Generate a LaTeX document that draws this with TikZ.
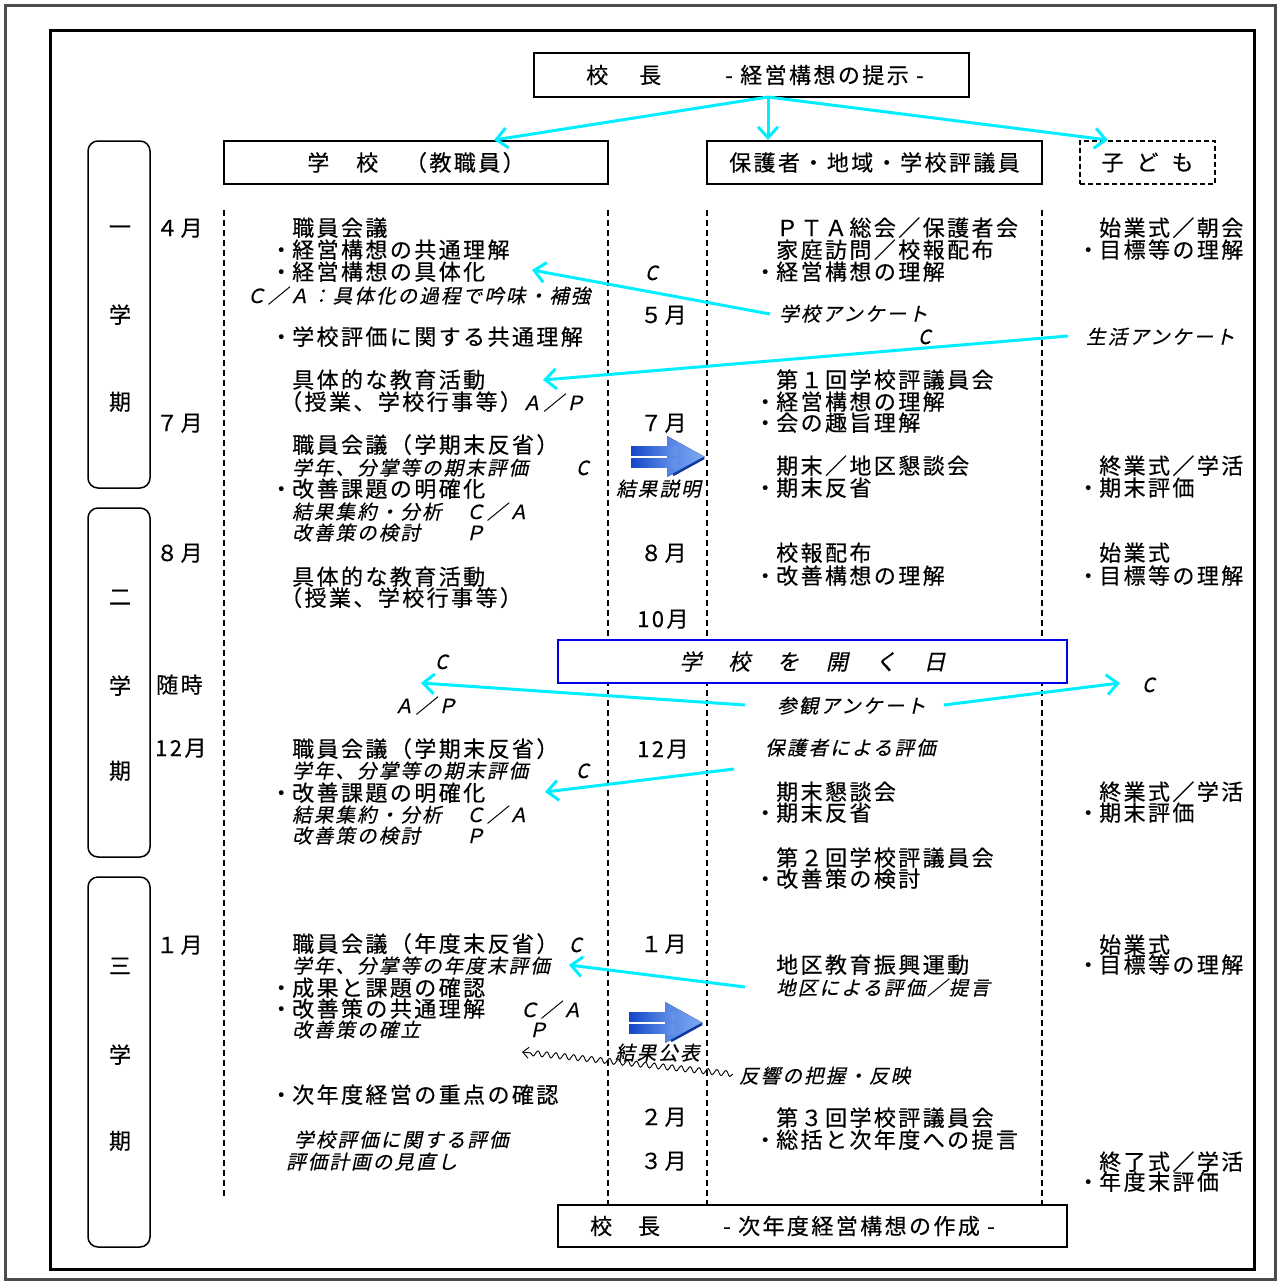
\documentclass[tikz,border=0pt]{standalone}
\usepackage{fontspec}
\setmainfont{Noto Sans CJK JP}
\newfontfamily\jpup{Noto Sans CJK JP}[LetterSpace=11,FakeBold=0.4]
\newfontfamily\jpit{Noto Sans CJK JP}[FakeSlant=0.22,LetterSpace=11,FakeBold=0.4]
\newfontfamily\jpitb{Noto Sans CJK JP}[FakeSlant=0.22,LetterSpace=11,FakeBold=0.4]
\usetikzlibrary{arrows.meta,decorations.pathmorphing}
\definecolor{cy}{RGB}{0,238,255}
\definecolor{bbox}{RGB}{0,0,230}
\definecolor{arD}{RGB}{20,70,200}
\definecolor{arL}{RGB}{125,170,245}
\newcommand\myit{\jpit\fontsize{19.5}{19.5}\selectfont}
\tikzset{
  up/.style={font=\jpup\fontsize{22}{22}\selectfont, inner sep=0pt},
  it/.style={font=\myit, inner sep=0pt},
  hbox/.style={draw, line width=2pt, inner sep=0pt, font=\jpup\fontsize{22}{22}\selectfont},
  guide/.style={dash pattern=on 6pt off 4pt, line width=1.5pt},
  cyarr/.style={draw=cy, line width=3pt, -{Straight Barb[length=11pt,width=20pt]}},
  semester/.style={draw, line width=1.5pt, rounded corners=10pt, inner sep=0pt},
}
\newcommand\txU[4]{\node[up,anchor=base west] (#1) at (#2,#3) {#4};}
\newcommand\txB[4]{\node[up,anchor=base west] (#1) at (#2,#3) {\llap{・}#4};}
\newcommand\txI[4]{\node[it,anchor=base west] (#1) at (#2,#3) {#4};}
\newcommand\blockarr[2]{%
  \begin{scope}[shift={(#1,#2)}]
    \fill[left color=arL!60!arD, right color=arL] (36,-21) -- (74,0) -- (36,20) -- cycle;
    \draw[arD!80!black, line width=2.5pt] (73,1) -- (42,18);
    \fill[left color=arD, right color=arL!80!arD] (0,-11) rectangle (46,-2);
    \fill[left color=arD, right color=arL!80!arD] (0,1) rectangle (46,10);
  \end{scope}}
\begin{document}
\begin{tikzpicture}[x=1pt,y=-1pt]
\useasboundingbox (0,0) rectangle (1280,1283);
% frames
\draw[line width=3pt, gray!60!black] (5,5) rectangle (1275,1279);
\draw[line width=3pt] (50,30) rectangle (1254,1269);
% guide lines
\draw[guide] (224,210) -- (224,1198);
\draw[guide] (608,210) -- (608,1205);
\draw[guide] (707,210) -- (707,1205);
\draw[guide] (1042,210) -- (1042,1205);
% header boxes
\node[hbox, minimum width=435pt, minimum height=44pt] (kocho) at (751.5,75) {\hspace{7pt}校\hspace{31pt}長\hspace{64pt}- 経営構想の提示 -};
\node[hbox, minimum width=384pt, minimum height=43pt] (gakko) at (416,162.5) {学　校　（教職員）};
\node[hbox, minimum width=335pt, minimum height=43pt] (hogo) at (874.5,162.5) {保護者・地域・学校評議員};
\node[hbox, dash pattern=on 5pt off 3pt, line width=1.6pt, minimum width=135pt, minimum height=43pt] (kodomo) at (1147.5,162.5) {子\hspace{13pt}ど\hspace{13pt}も};
\node[hbox, draw=bbox, fill=white, minimum width=509pt, minimum height=43pt, font=\jpitb\fontsize{22}{22}\selectfont] (hiraku) at (812.5,661.5) {学　校　を　開　く　日};
\node[hbox, fill=white, minimum width=509pt, minimum height=42pt] (kocho2) at (812.5,1226) {校\hspace{26pt}長\hspace{63pt}- 次年度経営構想の作成 -\hspace{40pt}\null};
% semester boxes
\node[semester, minimum width=62pt, minimum height=347pt] (sem1) at (119,314.5) {};
\node[semester, minimum width=62pt, minimum height=349pt] (sem2) at (119,682.5) {};
\node[semester, minimum width=62pt, minimum height=370pt] (sem3) at (119,1062) {};
\node[up,anchor=base] (s1a) at (120,235) {一};
\node[up,anchor=base] (s1b) at (120,323) {学};
\node[up,anchor=base] (s1c) at (120,410) {期};
\node[up,anchor=base] (s2a) at (120,605) {二};
\node[up,anchor=base] (s2b) at (120,694) {学};
\node[up,anchor=base] (s2c) at (120,779) {期};
\node[up,anchor=base] (s3a) at (120,974) {三};
\node[up,anchor=base] (s3b) at (120,1063) {学};
\node[up,anchor=base] (s3c) at (120,1149) {期};
% month column
\txU{t1}{156}{236}{４月}
\txU{t2}{156}{431}{７月}
\txU{t3}{156}{561}{８月}
\txU{t4}{156}{693}{随時}
\txU{t5}{155}{756}{12月}
\txU{t6}{156}{953}{１月}
% school column
\txU{l1}{292}{236}{職員会議}
\txB{l2}{292}{258}{経営構想の共通理解}
\txB{l3}{292}{280}{経営構想の具体化}
\txI{l4}{246}{303}{Ｃ／Ａ：具体化の過程で吟味・補強}
\txB{l5}{292}{345}{学校評価に関する共通理解}
\txU{l6}{292}{388}{具体的な教育活動}
\txU{l7}{280}{410}{（授業、学校行事等）{\myit Ａ／Ｐ}}
\txU{l8}{292}{453}{職員会議（学期末反省）}
\txI{l9}{292}{475}{学年、分掌等の期末評価}
\txI{l9c}{576}{475}{C}
\txB{l10}{292}{497}{改善課題の明確化}
\txI{l11}{292}{519}{結果集約・分析　Ｃ／Ａ}
\txI{l12}{292}{540}{改善策の検討　　Ｐ}
\txU{l13}{292}{585}{具体的な教育活動}
\txU{l14}{280}{606}{（授業、学校行事等）}
\txI{l15}{435}{669}{C}
\txI{l16}{394}{713}{Ａ／Ｐ}
\txU{l17}{292}{757}{職員会議（学期末反省）}
\txI{l18}{292}{778}{学年、分掌等の期末評価}
\txI{l18c}{576}{778}{C}
\txB{l19}{292}{801}{改善課題の明確化}
\txI{l20}{292}{822}{結果集約・分析　Ｃ／Ａ}
\txI{l21}{292}{843}{改善策の検討　　Ｐ}
\txU{l22}{292}{952}{職員会議（年度末反省）}
\txI{l22c}{569}{952}{C}
\txI{l23}{292}{973}{学年、分掌等の年度末評価}
\txB{l24}{292}{996}{成果と課題の確認}
\txB{l25}{292}{1017}{改善策の共通理解}
\txI{l25c}{519}{1017}{Ｃ／Ａ}
\txI{l26}{292}{1037}{改善策の確立}
\txI{l26p}{528}{1037}{Ｐ}
\txB{l27}{292}{1103}{次年度経営の重点の確認}
\txI{l28}{294}{1147}{学校評価に関する評価}
\txI{l29}{286}{1169}{評価計画の見直し}
% middle column
\txI{m1}{645}{280}{C}
\txU{m2}{640}{323}{５月}
\txU{m3}{640}{431}{７月}
\txI{m4}{616}{496}{結果説明}
\txU{m5}{640}{561}{８月}
\txU{m6}{637}{627}{10月}
\txU{m7}{637}{757}{12月}
\txU{m8}{640}{952}{１月}
\txI{m9}{615}{1060}{結果公表}
\txU{m10}{640}{1125}{２月}
\txU{m11}{640}{1169}{３月}
% parents column
\txU{r1}{776}{236}{ＰＴＡ総会／保護者会}
\txU{r2}{776}{258}{家庭訪問／校報配布}
\txB{r3}{776}{280}{経営構想の理解}
\txI{r4}{779}{321}{学校アンケート}
\txI{r5}{918}{344}{C}
\txU{r6}{776}{388}{第１回学校評議員会}
\txB{r7}{776}{410}{経営構想の理解}
\txB{r8}{776}{431}{会の趣旨理解}
\txU{r9}{776}{474}{期末／地区懇談会}
\txB{r10}{776}{496}{期末反省}
\txU{r11}{776}{561}{校報配布}
\txB{r12}{776}{584}{改善構想の理解}
\txI{r13}{777}{713}{参観アンケート}
\txI{r14}{765}{755}{保護者による評価}
\txU{r15}{776}{800}{期末懇談会}
\txB{r16}{776}{821}{期末反省}
\txU{r17}{776}{866}{第２回学校評議員会}
\txB{r18}{776}{887}{改善策の検討}
\txU{r19}{776}{973}{地区教育振興運動}
\txI{r20}{776}{995}{地区による評価／提言}
\txI{r21}{739}{1083}{反響の把握・反映}
\txU{r22}{776}{1126}{第３回学校評議員会}
\txB{r23}{776}{1148}{総括と次年度への提言}
% children column
\txU{k1}{1099}{236}{始業式／朝会}
\txB{k2}{1099}{258}{目標等の理解}
\txI{k3}{1086}{344}{生活アンケート}
\txU{k4}{1099}{474}{終業式／学活}
\txB{k5}{1099}{496}{期末評価}
\txU{k6}{1099}{561}{始業式}
\txB{k7}{1099}{584}{目標等の理解}
\txI{k8}{1142}{692}{C}
\txU{k9}{1099}{800}{終業式／学活}
\txB{k10}{1099}{821}{期末評価}
\txU{k11}{1099}{953}{始業式}
\txB{k12}{1099}{973}{目標等の理解}
\txU{k13}{1099}{1170}{終了式／学活}
\txB{k14}{1099}{1190}{年度末評価}
% block arrows
\blockarr{631}{457}
\blockarr{629}{1023}
% cyan arrows
\coordinate (ka) at (768,97);
\coordinate (ga) at (494,140);
\coordinate (ho) at (768,140);
\coordinate (ko) at (1108,140);
\draw[cyarr] (ka) -- (ga);
\draw[cyarr] (ka) -- (ho);
\draw[cyarr] (ka) -- (ko);
\coordinate (a4s) at (770,314);
\coordinate (a4e) at (532,270);
\draw[cyarr] (a4s) -- (a4e);
\coordinate (a5s) at (1068,336);
\coordinate (a5e) at (543,380);
\draw[cyarr] (a5s) -- (a5e);
\coordinate (a6s) at (745,705);
\coordinate (a6e) at (421,683);
\draw[cyarr] (a6s) -- (a6e);
\coordinate (a7s) at (944,705);
\coordinate (a7e) at (1120,683);
\draw[cyarr] (a7s) -- (a7e);
\coordinate (a8s) at (734,769);
\coordinate (a8e) at (545,792);
\draw[cyarr] (a8s) -- (a8e);
\coordinate (a9s) at (745,987);
\coordinate (a9e) at (569,965);
\draw[cyarr] (a9s) -- (a9e);
% wavy arrow
\coordinate (wvs) at (733,1074);
\coordinate (wve) at (522,1052);
\draw[decorate, decoration={snake, amplitude=2.8pt, segment length=9pt, post length=7pt}, line width=0.9pt, -{Straight Barb[length=6pt,width=11pt]}] (wvs) -- (wve);
\end{tikzpicture}
\end{document}
